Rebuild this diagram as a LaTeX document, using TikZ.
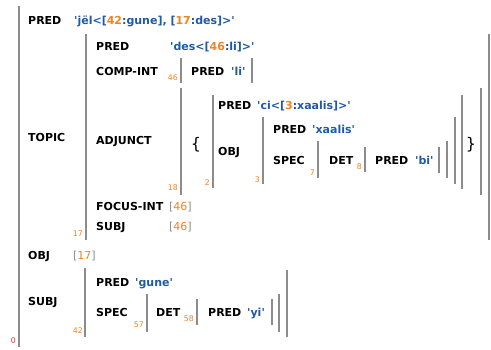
\documentclass[tikz,border=0pt]{standalone}
\usepackage{fontspec}
\setmainfont{DejaVu Sans}[Ligatures=TeXOff]
\definecolor{valblue}{HTML}{1F5AA6}
\definecolor{idorange}{HTML}{F58220}
\definecolor{bargray}{HTML}{8C8C8C}
\definecolor{rootred}{HTML}{E8302A}
\newcommand{\ix}[1]{\textcolor{idorange}{#1}}
\newcommand{\shared}[1]{\textcolor{bargray}{[}\ix{#1}\textcolor{bargray}{]}}
\newcommand{\sq}{\char"27}
\tikzset{
  attr/.style={anchor=west, inner sep=0pt, text height=7.5pt, text depth=0pt, font=\bfseries\fontsize{11}{13}\selectfont},
  val/.style={attr, text=valblue},
  ref/.style={anchor=west, inner sep=0pt, text height=7.5pt, text depth=0pt, font=\fontsize{11}{13}\selectfont},
  idx/.style={anchor=base east, inner sep=0pt, text=idorange, font=\fontsize{7.8}{9}\selectfont},
  bar/.style={draw=bargray, line width=1.5pt},
  brc/.style={inner sep=0pt, font=\fontsize{16}{18}\selectfont},
}
\begin{document}
\begin{tikzpicture}[x=1pt,y=-1pt]
	\useasboundingbox (0,0) rectangle (491,349);
	% outer f-structure
	\node[attr] (pred) at (28,21) {PRED};
	\node[val] (predval) at (74,21) {\sq jël<[\ix{42}:gune], [\ix{17}:des]>\sq};
	\node[attr] (topic) at (28,138) {TOPIC};
	\node[attr] (obj) at (28,256) {OBJ};
	\node[ref] (objval) at (73,256) {\shared{17}};
	\node[attr] (subj) at (28,302) {SUBJ};
	\node[idx, text=rootred] (f0) at (16,343.5) {0};
	\draw[bar] (19,6) -- (19,347);
	% TOPIC
	\node[attr] (tpred) at (96,47) {PRED};
	\node[val] (tpredval) at (170,47) {\sq des<[\ix{46}:li]>\sq};
	\node[attr] (compint) at (96,72) {COMP-INT};
	\node[idx] (f46) at (178,80.5) {46};
	\node[attr] (lipred) at (191,72) {PRED};
	\node[val] (lival) at (231,72) {\sq li\sq};
	\draw[bar] (181,58) -- (181,83);
	\draw[bar] (252,58) -- (252,83);
	\node[attr] (adjunct) at (96,141) {ADJUNCT};
	\node[idx] (f18) at (178,190.5) {18};
	\draw[bar] (181,88) -- (181,195);
	\node[brc] (lbrace) at (196,145) {\{};
	\node[idx] (f2) at (210,185.5) {2};
	\draw[bar] (213,95) -- (213,188);
	\node[attr] (cipred) at (218,106) {PRED};
	\node[val] (cival) at (257,106) {\sq ci<[\ix{3}:xaalis]>\sq};
	\node[attr] (ciobj) at (218,152) {OBJ};
	\node[idx] (f3) at (260,182) {3};
	\draw[bar] (263,117) -- (263,184);
	\node[attr] (xpred) at (273,130) {PRED};
	\node[val] (xval) at (312,130) {\sq xaalis\sq};
	\node[attr] (xspec) at (273,161) {SPEC};
	\node[idx] (f7) at (315,175) {7};
	\draw[bar] (318,141) -- (318,178);
	\node[attr] (xdet) at (329,161) {DET};
	\node[idx] (f8) at (362,169.5) {8};
	\draw[bar] (365,147) -- (365,172);
	\node[attr] (bipred) at (375,161) {PRED};
	\node[val] (bival) at (415,161) {\sq bi\sq};
	\draw[bar] (439,147) -- (439,173);
	\draw[bar] (447,141) -- (447,178);
	\draw[bar] (455,117) -- (455,184);
	\draw[bar] (462,95) -- (462,189);
	\node[brc] (rbrace) at (471,145) {\}};
	\draw[bar] (481,88) -- (481,195);
	\node[attr] (focint) at (96,207) {FOCUS-INT};
	\node[ref] (focval) at (169,207) {\shared{46}};
	\node[attr] (tsubj) at (96,227) {SUBJ};
	\node[ref] (tsubjval) at (169,227) {\shared{46}};
	\node[idx] (f17) at (83,236.5) {17};
	\draw[bar] (86,34) -- (86,240);
	\draw[bar] (489,34) -- (489,240);
	% SUBJ
	\node[attr] (spred) at (96,283) {PRED};
	\node[val] (sval) at (135,283) {\sq gune\sq};
	\node[attr] (sspec) at (96,313) {SPEC};
	\node[idx] (f57) at (144,327.5) {57};
	\draw[bar] (147,294) -- (147,332);
	\node[attr] (sdet) at (156,313) {DET};
	\node[idx] (f58) at (194,321.5) {58};
	\draw[bar] (197,299) -- (197,325);
	\node[attr] (yipred) at (208,313) {PRED};
	\node[val] (yival) at (247,313) {\sq yi\sq};
	\draw[bar] (272,299) -- (272,325);
	\draw[bar] (279,294) -- (279,332);
	\node[idx] (f42) at (83,333.5) {42};
	\draw[bar] (85,268) -- (85,337);
	\draw[bar] (287,270) -- (287,337);
\end{tikzpicture}
\end{document}
